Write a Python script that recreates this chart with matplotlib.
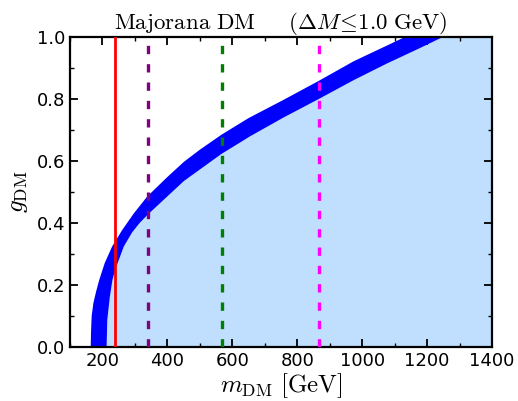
import matplotlib
matplotlib.use("Agg")
import matplotlib.pyplot as plt
import numpy as np
from matplotlib.ticker import MultipleLocator

plt.rcParams['mathtext.fontset'] = 'cm'

# band edges: (m_DM, g_DM)
m_outer = [164, 165, 167, 172, 180, 190, 207, 230, 261, 297, 338, 400, 451, 500, 566, 650, 758, 866, 973, 1076, 1132]
g_outer = [0.0, 0.05, 0.1, 0.14, 0.176, 0.215, 0.27, 0.324, 0.377, 0.431, 0.485, 0.548, 0.597, 0.636, 0.684, 0.738, 0.797, 0.858, 0.921, 0.972, 1.0]

m_inner = [213, 215, 223, 231, 239, 266, 292, 315, 341, 379, 451, 566, 656, 758, 867, 973, 1076, 1178, 1249]
g_inner = [0.0, 0.087, 0.162, 0.216, 0.248, 0.324, 0.37, 0.40, 0.428, 0.465, 0.535, 0.622, 0.68, 0.74, 0.80, 0.86, 0.914, 0.964, 1.0]

# vertical reference lines
line_masses = [238, 341, 567, 867]
line_colors = ['red', 'purple', 'green', 'magenta']
line_styles = ['-', '--', '--', '--']

fig = plt.figure(figsize=(5.18, 4.01), dpi=100)
ax = fig.add_axes([0.135, 0.135, 0.815, 0.773])

# light region right of the band
ax.fill(list(m_inner) + [1400, 1400], list(g_inner) + [1.0, 0.0],
        color='#c0dffe', lw=0, zorder=1)
# the band itself
ax.fill(list(m_outer) + list(m_inner[::-1]), list(g_outer) + list(g_inner[::-1]),
        color='blue', lw=0, zorder=2)

for m, c, ls in zip(line_masses, line_colors, line_styles):
    if ls == '-':
        ax.axvline(m, color=c, lw=2, zorder=3)
    else:
        ax.axvline(m, color=c, lw=2.4, ls=(0, (2.5, 3.0)), zorder=3)

ax.set_xlim(100, 1400)
ax.set_ylim(0, 1.0)
ax.xaxis.set_major_locator(MultipleLocator(200))
ax.xaxis.set_minor_locator(MultipleLocator(100))
ax.yaxis.set_major_locator(MultipleLocator(0.2))
ax.yaxis.set_minor_locator(MultipleLocator(0.1))
ax.yaxis.set_major_formatter(plt.FormatStrFormatter('%.1f'))
ax.tick_params(which='both', direction='in', top=True, right=True, labelsize=13)
ax.tick_params(which='major', length=6, width=1.3)
ax.tick_params(which='minor', length=3, width=1)
for s in ax.spines.values():
    s.set_linewidth(1.6)

ax.set_xlabel(r'$m_{\rm DM}\ [\rm GeV]$', fontsize=18, labelpad=1)
ax.set_ylabel(r'$g_{\rm DM}$', fontsize=18, labelpad=5)
ax.set_title(r'$\rm Majorana\ DM\quad\ \ (\Delta \mathit{M}\!\leq\!1.0\ GeV)$', fontsize=16.5, pad=3)

fig.savefig('out.png', dpi=100)
